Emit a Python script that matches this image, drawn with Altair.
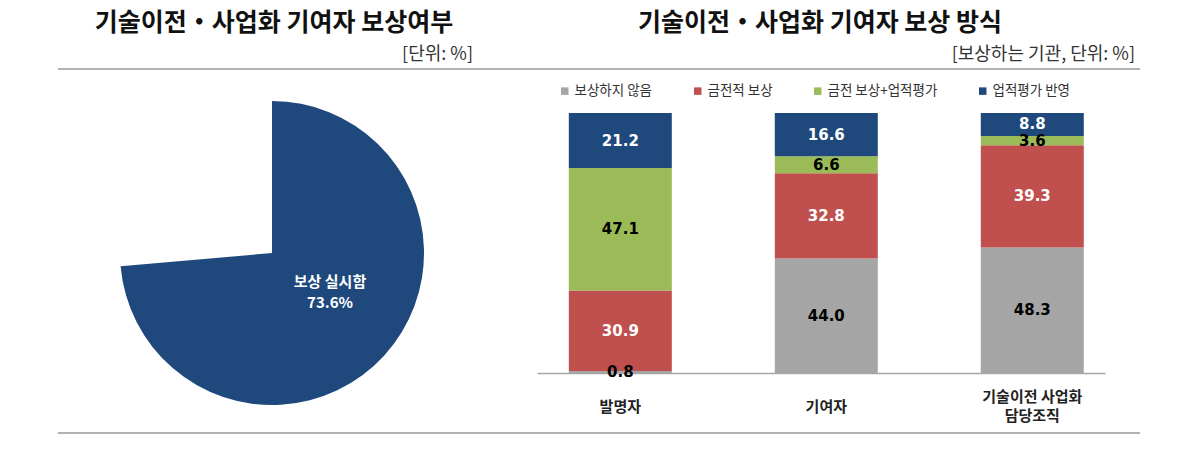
import altair as alt
import pandas as pd

# ---------------- data ----------------
categories = ['발명자', '기여자', '기술이전 사업화\n담당조직']
series = ['보상하지 않음', '금전적 보상', '금전 보상+업적평가', '업적평가 반영']
series_colors = ['#A5A5A5', '#C0504D', '#9BBB59', '#1F497D']
no_comp = [0.8, 44.0, 48.3]
money = [30.9, 32.8, 39.3]
money_eval = [47.1, 6.6, 3.6]
eval_only = [21.2, 16.6, 8.8]

pie_names = ['보상 실시함']
pie_values = [73.6]

title_left = '기술이전・사업화 기여자 보상여부'
unit_left = '[단위: %]'
title_right = '기술이전・사업화 기여자 보상 방식'
unit_right = '[보상하는 기관, 단위: %]'

# ---------------- tables ----------------
rows = []
for i, c in enumerate(categories):
    vals = [no_comp[i], money[i], money_eval[i], eval_only[i]]
    base = 0.0
    for j, s in enumerate(series):
        v = vals[j]
        rows.append({'cat': c, 'series': s, 'sidx': j, 'value': v,
                     'y0': base, 'y1': base + v, 'mid': base + v / 2})
        base += v
bar_df = pd.DataFrame(rows)
pie_df = pd.DataFrame({'name': pie_names, 'value': pie_values})

KFONT = 'Noto Sans CJK KR'

x_enc = alt.X('cat:N', sort=categories,
              scale=alt.Scale(range=[537, 1105], paddingInner=0.5,
                              paddingOuter=0.1287, align=0.6),
              axis=alt.Axis(title=None, orient='bottom', offset=-102,
                            ticks=False, tickSize=0, grid=False,
                            domainColor='#A6A6A6', domainWidth=1.5,
                            labelAngle=0, labelFont=KFONT,
                            labelFontWeight='bold', labelFontSize=15,
                            labelColor='#222222', labelPadding=33,
                            labelBaseline=alt.condition(
                                "indexof(datum.label, '\\n') >= 0",
                                alt.value('line-bottom'),
                                alt.value('middle')),
                            labelLineHeight=19,
                            labelExpr="split(datum.label, '\\n')"))
y_scale = alt.Scale(domain=[0, 100], range=[373, 113])

bars = alt.Chart(bar_df).mark_bar().encode(
    x=x_enc,
    y=alt.Y('y0:Q', scale=y_scale, axis=None),
    y2='y1:Q',
    color=alt.Color('series:N', sort=series,
                    scale=alt.Scale(domain=series, range=series_colors),
                    legend=alt.Legend(title=None, orient='none',
                                      legendX=558, legendY=84,
                                      direction='horizontal',
                                      symbolType='square', symbolSize=56,
                                      symbolStrokeWidth=0, padding=0,
                                      labelFont=KFONT, labelFontSize=13.5,
                                      labelColor='#333333', labelOffset=3,
                                      columnPadding=38)),
)

bar_text = alt.Chart(bar_df).mark_text(
    font='DejaVu Sans', fontWeight='bold', fontSize=15, baseline='middle'
).encode(
    x=x_enc,
    y=alt.Y('mid:Q', scale=y_scale, axis=None),
    text=alt.Text('value:Q', format='.1f'),
    color=alt.condition("datum.sidx == 1 || datum.sidx == 3",
                        alt.value('white'), alt.value('black')),
)

pie = alt.Chart(pie_df).mark_arc(radius=152, stroke=None).encode(
    theta=alt.Theta('value:Q', stack=True,
                    scale=alt.Scale(domain=[0, 100])),
    color=alt.value('#1F497D'),
    x=alt.value(272),
    y=alt.value(253),
)

pie_text = alt.Chart(pie_df).transform_calculate(
    lbl="datum.name + '\\n' + format(datum.value, '.1f') + '%'"
).mark_text(font=KFONT, fontWeight='bold', fontSize=15, color='white',
            lineBreak='\n', lineHeight=21, baseline='middle').encode(
    x=alt.value(330), y=alt.value(282), text='lbl:N')

one = pd.DataFrame({'k': [0]})


def label(txt, x, y, size, weight='normal', align='center', color='#111111'):
    return alt.Chart(one).mark_text(
        text=txt, font=KFONT, fontSize=size, fontWeight=weight,
        align=align, baseline='middle', color=color
    ).encode(x=alt.value(x), y=alt.value(y))


t1 = label(title_left, 274, 23, 25, 'bold')
t2 = label(title_right, 820, 23, 25, 'bold')
u1 = label(unit_left, 473, 55, 18, 'normal', 'right', '#333333')
u2 = label(unit_right, 1135, 55, 18, 'normal', 'right', '#333333')

line_top = alt.Chart(one).mark_rule(color='#999999', strokeWidth=1.5).encode(
    x=alt.value(58), x2=alt.value(1140), y=alt.value(69))
line_bot = alt.Chart(one).mark_rule(color='#999999', strokeWidth=1.5).encode(
    x=alt.value(58), x2=alt.value(1140), y=alt.value(433))

chart = alt.layer(
    line_top, line_bot, pie, pie_text, bars, bar_text, t1, t2, u1, u2
).properties(
    width=1178, height=475, padding=0, autosize='none', background='white'
).configure_view(stroke=None)

chart.save("out.html", embed_options={"renderer": "svg", "actions": False})
